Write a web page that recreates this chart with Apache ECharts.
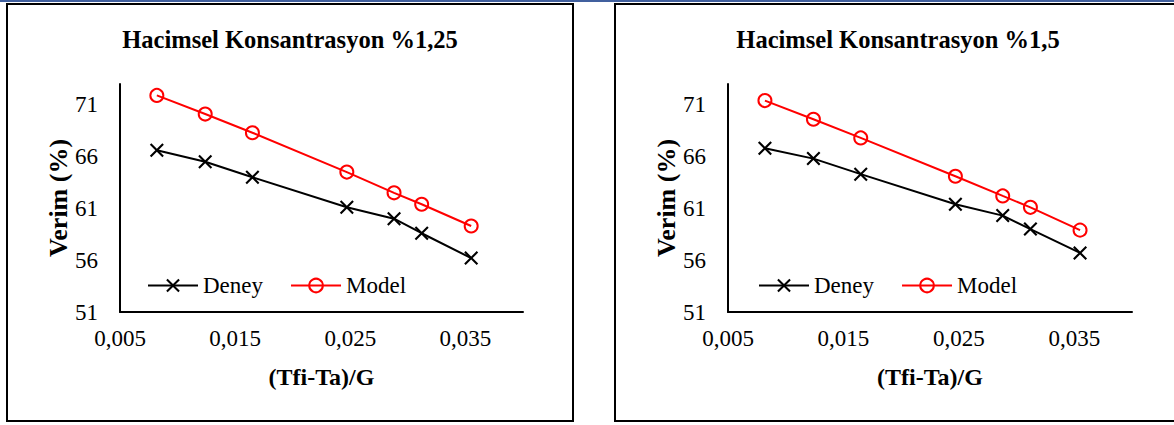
<!DOCTYPE html>
<html>
<head>
<meta charset="utf-8">
<script src="https://cdn.jsdelivr.net/npm/echarts@6/dist/echarts.min.js"></script>
<style>
html,body{margin:0;padding:0;background:#fff;}
#c{width:1174px;height:425px;}
</style>
</head>
<body>
<div id="c"></div>
<script>
// ---- data ----
const titles = ['Hacimsel Konsantrasyon %1,25', 'Hacimsel Konsantrasyon %1,5'];
const seriesNames = ['Deney', 'Model'];
const xValues = [0.0082, 0.0124, 0.0165, 0.0247, 0.0288, 0.0312, 0.0355];
const deney125 = [66.6, 65.5, 64.0, 61.1, 60.0, 58.6, 56.2];
const model125 = [71.9, 70.1, 68.3, 64.5, 62.5, 61.4, 59.3];
const deney15 = [66.8, 65.8, 64.3, 61.4, 60.3, 59.0, 56.7];
const model15 = [71.4, 69.6, 67.8, 64.1, 62.2, 61.1, 58.9];
const xTickMin = 0.005, xTickStep = 0.01, xMax = 0.04;
const yTickMin = 51, yTickStep = 5, yMax = 73;
const xAxisTitle = '(Tfi-Ta)/G';
const yAxisTitle = 'Verim (%)';

const FONT = '"Liberation Serif", "Times New Roman", serif';
const pairs = (ys) => xValues.map((x, i) => [x, ys[i]]);
const X_PATH = 'path://M0,1.5L1.5,0L7,5.5L12.5,0L14,1.5L8.5,7L14,12.5L12.5,14L7,8.5L1.5,14L0,12.5L5.5,7Z';

const grids = [
  {left: 120, top: 84, width: 403, height: 228},
  {left: 728, top: 84, width: 404, height: 228}
];

function xAxis(gi) {
  return {
    type: 'value', gridIndex: gi, min: xTickMin, max: xMax, interval: xTickStep,
    axisLine: {show: true, lineStyle: {color: '#000', width: 2}},
    axisTick: {show: false}, splitLine: {show: false},
    axisLabel: {
      color: '#000', fontFamily: FONT, fontSize: 23, margin: 15,
      showMinLabel: true, showMaxLabel: true,
      formatter: v => {
        const k = (v - xTickMin) / xTickStep;
        return Math.abs(k - Math.round(k)) < 1e-6 ? v.toFixed(3).replace('.', ',') : '';
      }
    },
    name: xAxisTitle, nameLocation: 'middle', nameGap: 53,
    nameTextStyle: {color: '#000', fontFamily: FONT, fontSize: 24, fontWeight: 'bold'}
  };
}
function yAxis(gi) {
  return {
    type: 'value', gridIndex: gi, min: yTickMin, max: yMax, interval: yTickStep,
    axisLine: {show: true, lineStyle: {color: '#000', width: 2}},
    axisTick: {show: false}, splitLine: {show: false},
    axisLabel: {
      color: '#000', fontFamily: FONT, fontSize: 23, margin: 22,
      showMinLabel: true, showMaxLabel: true,
      formatter: v => ((v - yTickMin) % yTickStep === 0 ? String(v) : '')
    },
    name: yAxisTitle, nameLocation: 'middle', nameGap: 49,
    nameTextStyle: {color: '#000', fontFamily: FONT, fontSize: 26, fontWeight: 'bold'}
  };
}
function deneySeries(gi, ys) {
  return {
    name: seriesNames[0], type: 'line', xAxisIndex: gi, yAxisIndex: gi,
    data: pairs(ys), symbol: X_PATH, symbolSize: 14,
    lineStyle: {color: '#000', width: 2},
    itemStyle: {color: '#000'}, emphasis: {disabled: true}, z: 3
  };
}
function modelSeries(gi, ys) {
  return {
    name: seriesNames[1], type: 'line', xAxisIndex: gi, yAxisIndex: gi,
    data: pairs(ys), symbol: 'circle', symbolSize: 13,
    lineStyle: {color: '#ff0000', width: 2},
    itemStyle: {color: 'rgba(255,255,255,0)', borderColor: '#ff0000', borderWidth: 2},
    emphasis: {disabled: true}, z: 4
  };
}
function legend(left) {
  return {
    data: seriesNames, left: left, top: 274, orient: 'horizontal', padding: 0,
    itemWidth: 50, itemHeight: 17, itemGap: 27, selectedMode: false,
    textStyle: {color: '#000', fontFamily: FONT, fontSize: 23}
  };
}

const chart = echarts.init(document.getElementById('c'), null, {renderer: 'svg'});
chart.setOption({
  animation: false,
  backgroundColor: '#fff',
  title: [
    {text: titles[0], left: 290, top: 27, padding: 0, textAlign: 'center',
     textStyle: {color: '#000', fontFamily: FONT, fontSize: 24.5, fontWeight: 'bold'}},
    {text: titles[1], left: 898, top: 27, padding: 0, textAlign: 'center',
     textStyle: {color: '#000', fontFamily: FONT, fontSize: 24.5, fontWeight: 'bold'}}
  ],
  legend: [legend(147), legend(758)],
  grid: grids,
  xAxis: [xAxis(0), xAxis(1)],
  yAxis: [yAxis(0), yAxis(1)],
  series: [deneySeries(0, deney125), modelSeries(0, model125), deneySeries(1, deney15), modelSeries(1, model15)],
  graphic: [
    {type: 'rect', shape: {x: 0, y: 0, width: 1174, height: 2}, style: {fill: '#41609e'}, silent: true},
    {type: 'rect', shape: {x: 7, y: 4, width: 566, height: 417}, style: {fill: 'none', stroke: '#000', lineWidth: 2}, silent: true},
    {type: 'rect', shape: {x: 615, y: 4, width: 600, height: 417}, style: {fill: 'none', stroke: '#000', lineWidth: 2}, silent: true}
  ]
});
</script>
</body>
</html>
